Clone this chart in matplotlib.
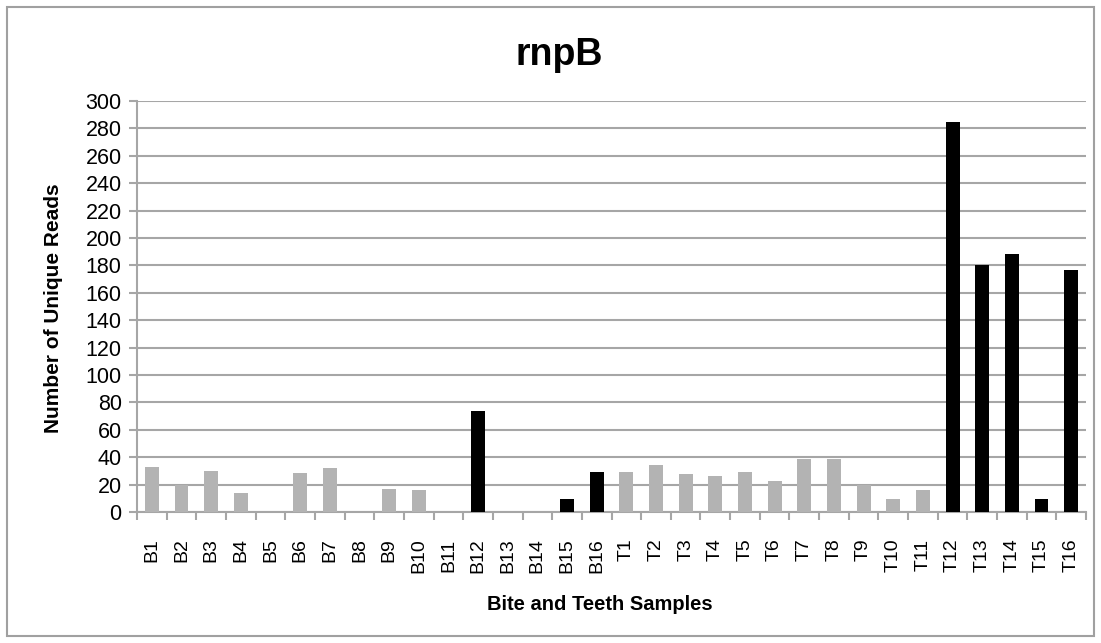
import matplotlib
matplotlib.use("Agg")
import matplotlib.pyplot as plt
import numpy as np
from matplotlib.patches import Rectangle

plt.rcParams['font.family'] = ['Liberation Sans', 'DejaVu Sans']

categories = [f"B{i}" for i in range(1, 17)] + [f"T{i}" for i in range(1, 17)]
values = [33, 20, 30, 14, 0, 28.5, 32, 0, 17, 16, 0, 74, 0, 0, 9.5, 29,
          29, 34.5, 27.5, 26.5, 29, 22.5, 38.5, 38.5, 20, 9.5, 16, 285, 180, 188, 9.5, 177]
is_black = ["B12", "B15", "B16", "T12", "T13", "T14", "T15", "T16"]

fig = plt.figure(figsize=(11.01, 6.43), dpi=100)
fig.patches.append(Rectangle((7/1101, 7/643), 1 - 14/1101, 1 - 14/643, transform=fig.transFigure,
                             fill=False, edgecolor='#a0a0a0', linewidth=1.5))
ax = fig.add_axes([137/1101, 1 - 512/643, (1086 - 137)/1101, (512 - 101)/643])

x = np.arange(len(categories))
colors = ['black' if c in is_black else '#b3b3b3' for c in categories]
ax.bar(x, values, width=0.47, color=colors, zorder=3)

ax.set_xlim(-0.5, len(categories) - 0.5)
ax.set_ylim(0, 300)
ax.set_yticks(np.arange(0, 301, 20))
ax.yaxis.grid(True, color='#a6a6a6', linewidth=1.5, zorder=0)
ax.set_xticks(x)
ax.set_xticklabels(categories, rotation=90, fontsize=14)
ax.set_xticks(np.arange(-0.5, len(categories), 1), minor=True)
ax.tick_params(axis='x', which='major', length=0, pad=19)
ax.tick_params(axis='x', which='minor', length=6, color='#a6a6a6', width=1.5)
ax.tick_params(axis='y', length=6, color='#a6a6a6', width=1.5, labelsize=15.5, pad=5)
for s in ['top', 'right']:
    ax.spines[s].set_visible(False)
for s in ['left', 'bottom']:
    ax.spines[s].set_color('#a6a6a6')
    ax.spines[s].set_linewidth(1.5)

fig.text(54/1101, 1 - 308/643, "Number of Unique Reads", ha='center', va='center', rotation=90,
         fontsize=15, fontweight='bold')
fig.text(600/1101, 1 - 604/643, "Bite and Teeth Samples", ha='center', va='center',
         fontsize=14.5, fontweight='bold')
fig.text(559/1101, 1 - 55/643, "rnpB", ha='center', va='center',
         fontsize=27, fontweight='bold')

fig.savefig("out.png", dpi=100)
